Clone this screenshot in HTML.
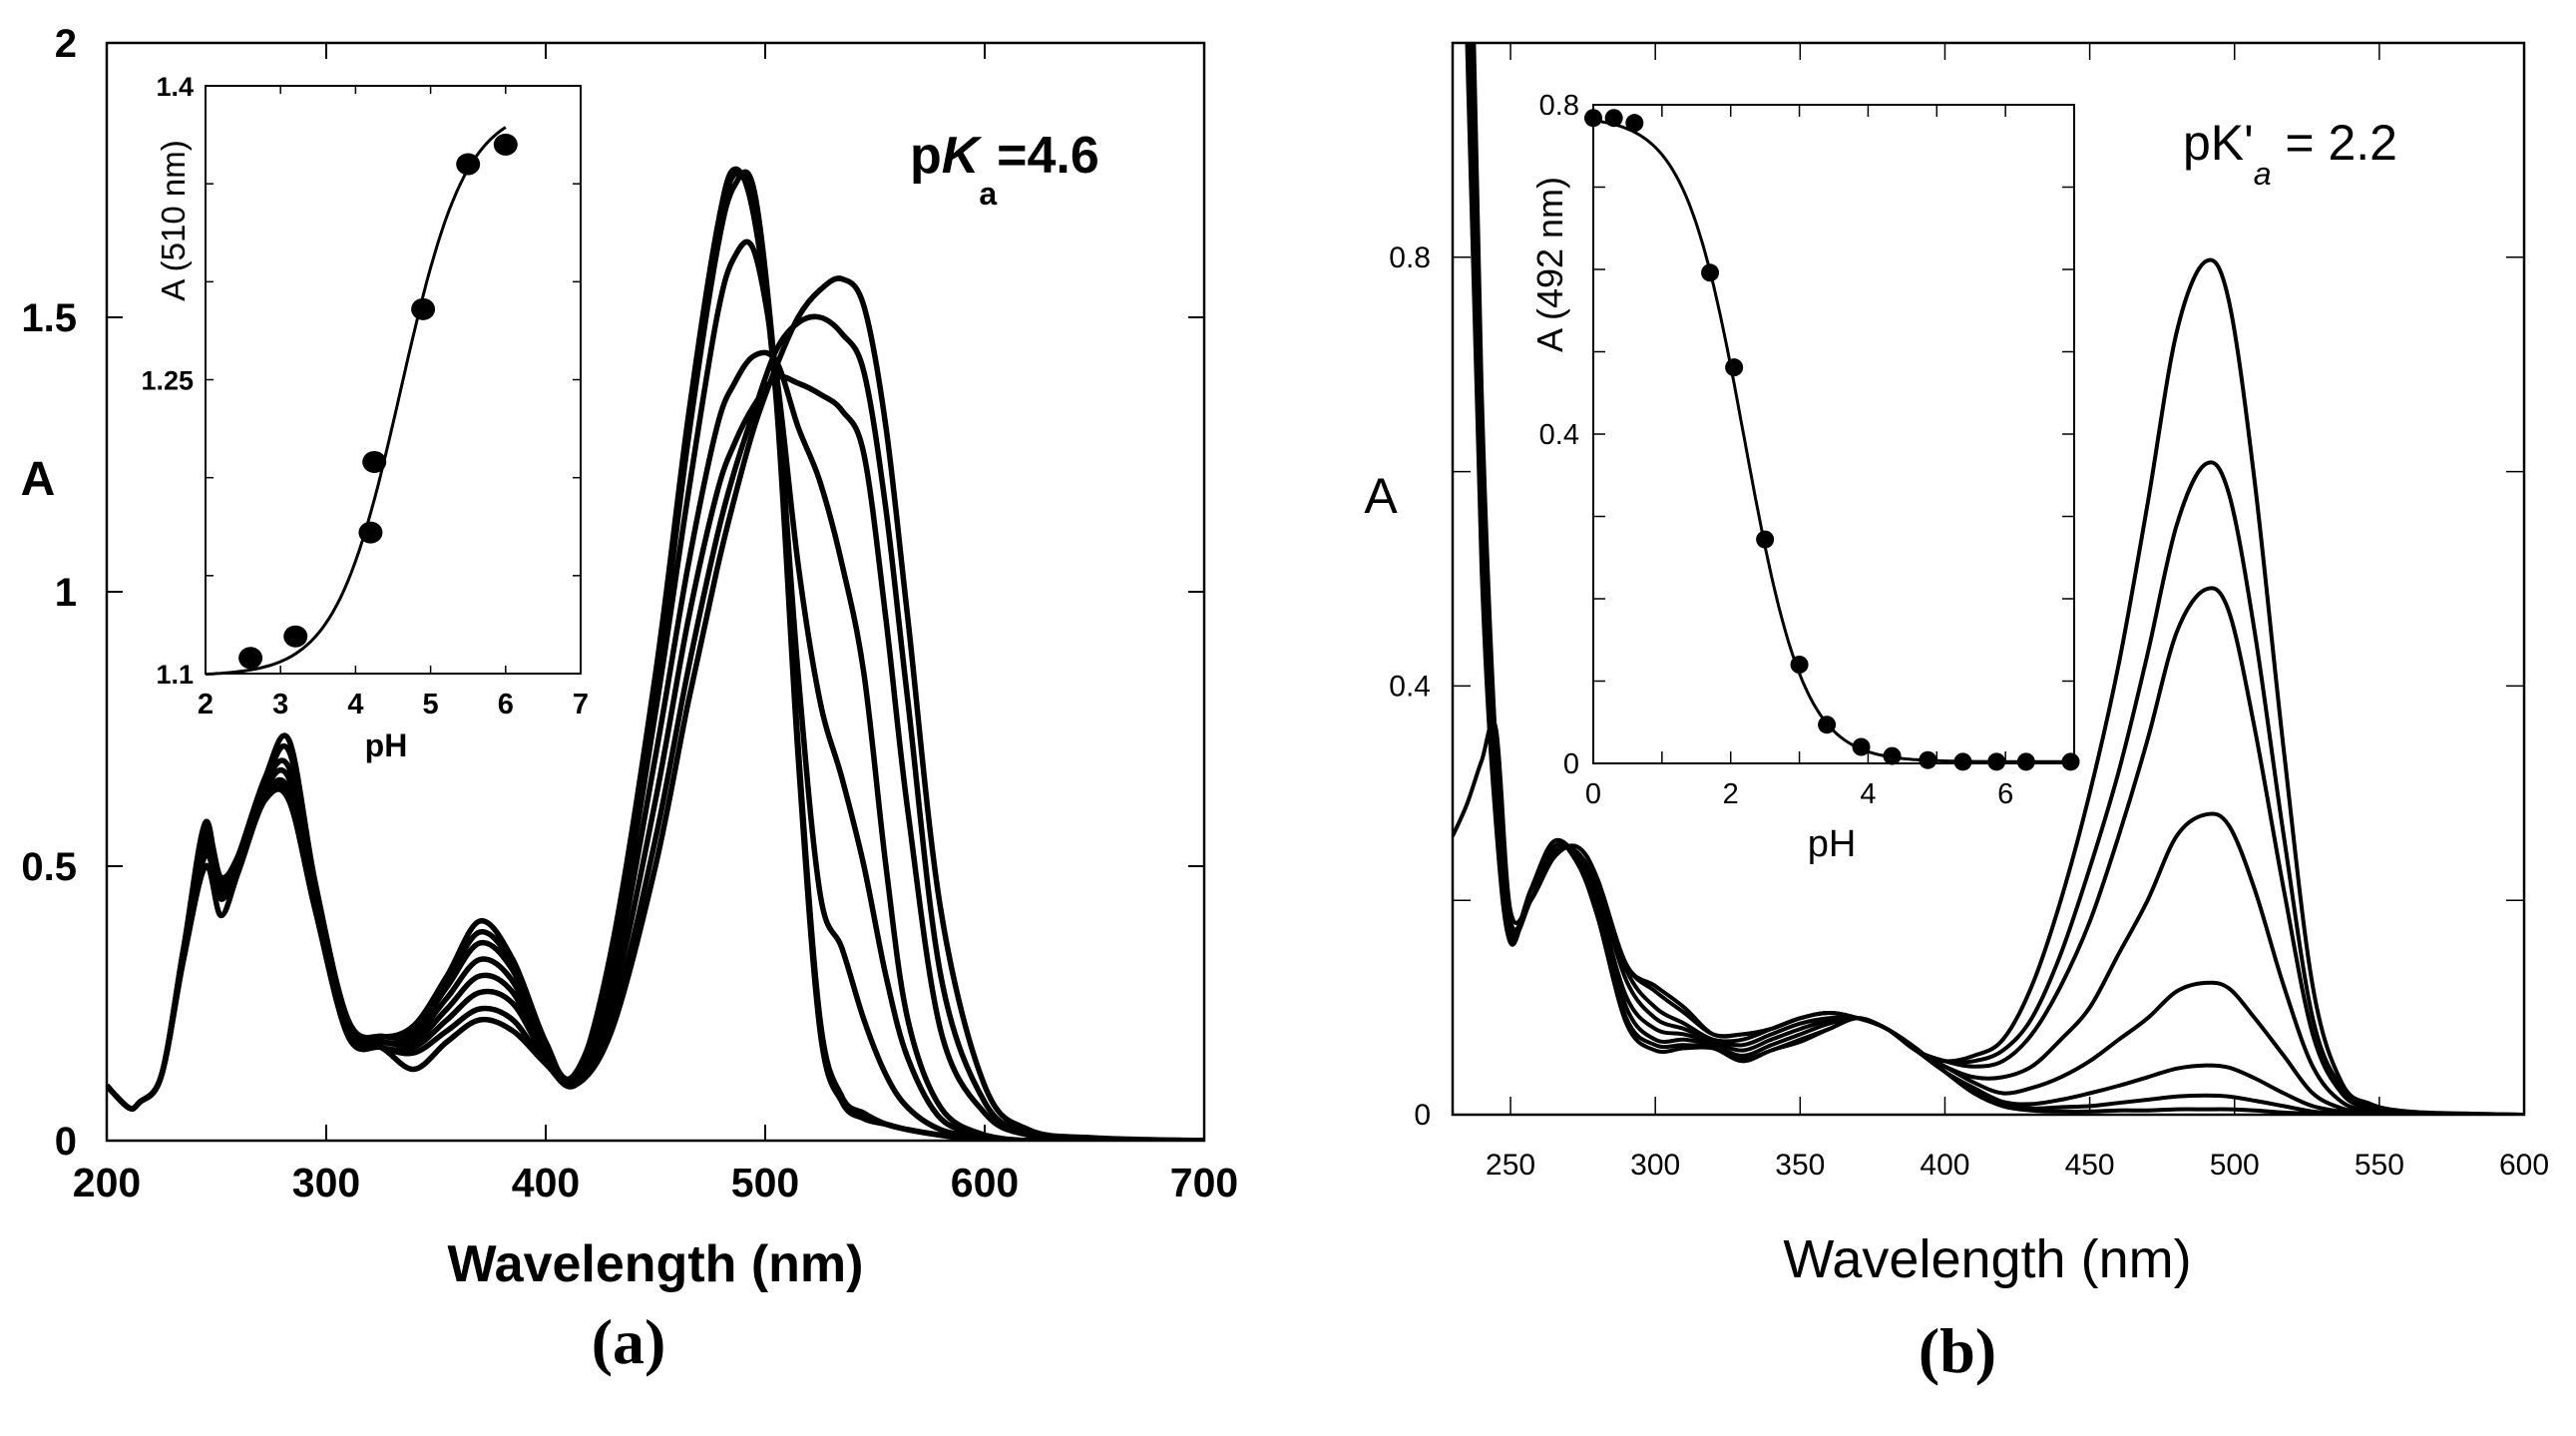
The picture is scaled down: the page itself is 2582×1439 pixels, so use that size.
<!DOCTYPE html>
<html><head><meta charset="utf-8"><style>
html,body{margin:0;padding:0;background:#fff}
svg{display:block}
text{font-family:"Liberation Sans",Arial,sans-serif;fill:#000}
</style></head><body>
<svg id="fig" width="2582" height="1439" viewBox="0 0 2582 1439" xmlns="http://www.w3.org/2000/svg">
<defs>
<clipPath id="clipA"><rect x="107" y="43" width="1100" height="1100"/></clipPath>
<clipPath id="clipB"><rect x="1456" y="43" width="1074" height="1074"/></clipPath>
</defs>
<g id="gA"></g>
<g id="gB"></g>
</svg>
<script>
// ---------- Panel (a) data ----------
const waveA = [200,210,215,225,235,245,252,260,272,283,295,310,325,340,355,370,385,400,413,430,450,465,478,486,495,505,515,525,535,545,555,565,580,600,620,650,700];
const specA1 = [0.10,0.06,0.07,0.12,0.35,0.58,0.45,0.52,0.66,0.73,0.47,0.22,0.19,0.21,0.30,0.40,0.33,0.18,0.11,0.35,0.85,1.32,1.66,1.77,1.68,1.35,0.70,0.20,0.07,0.04,0.03,0.02,0.01,0,0,0,0];
const specA2 = [0.10,0.06,0.07,0.12,0.35,0.57,0.46,0.52,0.65,0.71,0.46,0.21,0.19,0.20,0.29,0.38,0.32,0.17,0.11,0.34,0.84,1.30,1.64,1.76,1.70,1.36,0.72,0.22,0.08,0.05,0.03,0.02,0.01,0,0,0,0];
const specA3 = [0.10,0.06,0.07,0.12,0.35,0.56,0.48,0.52,0.65,0.68,0.46,0.21,0.19,0.20,0.28,0.36,0.31,0.17,0.12,0.33,0.82,1.28,1.62,1.74,1.73,1.38,0.85,0.45,0.35,0.22,0.12,0.06,0.02,0.005,0,0,0];
const specA4 = [0.10,0.06,0.07,0.12,0.34,0.55,0.47,0.51,0.64,0.66,0.44,0.21,0.18,0.19,0.26,0.33,0.29,0.16,0.12,0.31,0.78,1.18,1.50,1.61,1.62,1.40,1.05,0.80,0.66,0.50,0.30,0.15,0.04,0.01,0,0,0];
const specA5 = [0.10,0.06,0.07,0.12,0.34,0.54,0.46,0.51,0.63,0.64,0.43,0.20,0.18,0.18,0.24,0.30,0.27,0.15,0.11,0.28,0.70,1.05,1.30,1.38,1.43,1.42,1.30,1.20,1.05,0.85,0.50,0.22,0.06,0.01,0,0,0];
const specA6 = [0.10,0.06,0.07,0.12,0.34,0.53,0.45,0.50,0.63,0.63,0.43,0.20,0.17,0.17,0.22,0.27,0.25,0.15,0.11,0.25,0.62,0.95,1.18,1.27,1.34,1.39,1.38,1.36,1.33,1.25,0.95,0.60,0.20,0.05,0.01,0,0];
const specA7 = [0.10,0.06,0.07,0.12,0.34,0.52,0.44,0.50,0.62,0.62,0.42,0.19,0.17,0.16,0.20,0.24,0.22,0.14,0.11,0.22,0.55,0.86,1.10,1.22,1.33,1.44,1.49,1.50,1.47,1.40,1.15,0.80,0.30,0.07,0.015,0,0];
const specA8 = [0.10,0.06,0.07,0.12,0.33,0.50,0.41,0.49,0.62,0.62,0.42,0.19,0.17,0.13,0.18,0.22,0.20,0.14,0.10,0.20,0.50,0.80,1.04,1.17,1.30,1.41,1.50,1.55,1.57,1.52,1.30,0.95,0.42,0.10,0.02,0.005,0];
const seriesA = [specA1,specA2,specA3,specA4,specA5,specA6,specA7,specA8];
const xTicksA = [200,300,400,500,600,700];
const yTicksA = [0,0.5,1,1.5,2];
const yTickLabelsA = ["0","0.5","1","1.5","2"];
// inset (a)
const insetPhA = [2.6,3.2,4.2,4.25,4.9,5.5,6.0];
const insetAbsA = [1.108,1.119,1.172,1.208,1.286,1.36,1.37];
const fitA = {pKa:4.6, low:1.099, high:1.39, from:2, to:6};
const insetXTicksA = [2,3,4,5,6,7];
const insetYTicksA = [1.1,1.15,1.2,1.25,1.3,1.35,1.4];
const insetYLabelsA = {"1.1":"1.1","1.25":"1.25","1.4":"1.4"};

// ---------- Panel (b) data ----------
const waveB = [230,235,240,245,250,257,265,273,280,290,300,310,320,330,340,350,360,370,380,390,400,410,420,430,440,450,460,470,480,490,498,507,517,527,537,547,560,580,600];
const specB1 = [0.26,0.29,0.33,0.36,0.19,0.20,0.24,0.25,0.22,0.14,0.12,0.10,0.075,0.075,0.08,0.09,0.095,0.09,0.08,0.06,0.05,0.055,0.07,0.12,0.20,0.30,0.42,0.57,0.73,0.796,0.76,0.59,0.34,0.12,0.03,0.01,0.003,0.001,0];
const specB2 = [1.9,1.3,0.68,0.34,0.18,0.20,0.24,0.25,0.22,0.14,0.115,0.095,0.075,0.075,0.08,0.09,0.095,0.09,0.08,0.06,0.05,0.05,0.06,0.09,0.15,0.23,0.32,0.43,0.55,0.607,0.58,0.45,0.26,0.09,0.025,0.008,0.002,0.001,0];
const specB3 = [1.85,1.25,0.66,0.33,0.18,0.20,0.24,0.25,0.22,0.135,0.10,0.085,0.07,0.07,0.08,0.09,0.095,0.09,0.08,0.06,0.05,0.045,0.05,0.075,0.12,0.18,0.26,0.35,0.45,0.49,0.47,0.36,0.21,0.075,0.02,0.006,0.002,0,0];
const specB4 = [1.8,1.2,0.63,0.31,0.175,0.20,0.245,0.245,0.21,0.125,0.09,0.08,0.07,0.065,0.075,0.085,0.09,0.09,0.08,0.06,0.045,0.035,0.035,0.045,0.07,0.10,0.15,0.20,0.26,0.28,0.27,0.21,0.12,0.045,0.012,0.004,0.001,0,0];
const specB5 = [1.75,1.15,0.60,0.30,0.17,0.20,0.25,0.24,0.20,0.11,0.08,0.075,0.068,0.06,0.07,0.08,0.088,0.09,0.08,0.06,0.045,0.03,0.02,0.025,0.035,0.05,0.07,0.09,0.115,0.123,0.118,0.09,0.055,0.02,0.006,0.002,0,0,0];
const specB6 = [1.7,1.1,0.57,0.29,0.17,0.21,0.255,0.24,0.20,0.10,0.07,0.07,0.065,0.055,0.065,0.075,0.085,0.09,0.08,0.06,0.04,0.025,0.012,0.01,0.014,0.02,0.027,0.035,0.043,0.046,0.044,0.034,0.02,0.008,0.003,0.001,0,0,0];
const specB7 = [1.65,1.05,0.54,0.28,0.165,0.21,0.255,0.235,0.19,0.09,0.065,0.065,0.063,0.052,0.06,0.07,0.08,0.09,0.08,0.062,0.04,0.022,0.01,0.006,0.007,0.008,0.011,0.014,0.017,0.018,0.017,0.013,0.008,0.003,0.001,0,0,0,0];
const specB8 = [1.6,1.0,0.51,0.27,0.16,0.21,0.255,0.235,0.185,0.085,0.06,0.062,0.062,0.05,0.06,0.068,0.08,0.09,0.08,0.062,0.04,0.02,0.008,0.004,0.003,0.003,0.004,0.004,0.005,0.005,0.005,0.004,0.002,0.001,0,0,0,0,0];
const seriesB = [specB1,specB2,specB3,specB4,specB5,specB6,specB7,specB8];
const xTicksB = [250,300,350,400,450,500,550,600];
const yTicksB = [0,0.2,0.4,0.6,0.8,1.0];
const yTickLabelsB = {"0":"0","0.4":"0.4","0.8":"0.8"};
// inset (b)
const insetPhB = [0,0.3,0.6,1.7,2.05,2.5,3.0,3.4,3.9,4.35,4.87,5.38,5.87,6.3,6.95];
const insetAbsB = [0.784,0.784,0.778,0.596,0.481,0.272,0.12,0.047,0.02,0.009,0.004,0.002,0.002,0.002,0.002];
const fitB = {pKa:2.2, low:0.002, high:0.786, from:0, to:7};
const insetXTicksB = [0,1,2,3,4,5,6,7];
const insetXLabelsB = {"0":"0","2":"2","4":"4","6":"6"};
const insetYTicksB = [0,0.1,0.2,0.3,0.4,0.5,0.6,0.7,0.8];
const insetYLabelsB = {"0":"0","0.4":"0.4","0.8":"0.8"};

// ---------- helpers ----------
const NS = "http://www.w3.org/2000/svg";
function mk(parent, tag, attrs, txt){
  const e = document.createElementNS(NS, tag);
  for (const k in attrs) e.setAttribute(k, attrs[k]);
  if (txt !== undefined) e.textContent = txt;
  parent.appendChild(e);
  return e;
}
function linear(d0,d1,r0,r1){ return v => r0 + (v-d0)/(d1-d0)*(r1-r0); }
function smoothPath(pts){
  let d = "M" + pts[0][0].toFixed(1) + "," + pts[0][1].toFixed(1);
  for (let i=0;i<pts.length-1;i++){
    const p0=pts[Math.max(0,i-1)], p1=pts[i], p2=pts[i+1], p3=pts[Math.min(pts.length-1,i+2)];
    const c1x=p1[0]+(p2[0]-p0[0])/6, c1y=p1[1]+(p2[1]-p0[1])/6;
    const c2x=p2[0]-(p3[0]-p1[0])/6, c2y=p2[1]-(p3[1]-p1[1])/6;
    d += " C"+c1x.toFixed(1)+","+c1y.toFixed(1)+" "+c2x.toFixed(1)+","+c2y.toFixed(1)+" "+p2[0].toFixed(1)+","+p2[1].toFixed(1);
  }
  return d;
}

// ---------- Panel (a) ----------
(function(){
  const g = document.getElementById('gA');
  const L=107,R=1207,T=43,B=1143;
  const x = linear(200,700,L,R), y = linear(0,2,B,T);
  const curves = mk(g,'g',{'clip-path':'url(#clipA)'});
  seriesA.forEach((s,i)=>{
    const p = mk(curves,'path',{d:smoothPath(waveA.map((w,j)=>[x(w),y(s[j])])),fill:'none',stroke:'#000','stroke-width':5.5,'stroke-linejoin':'round'});
    
    
  });
  const fr = mk(g,'rect',{x:L,y:T,width:R-L,height:B-T,fill:'none',stroke:'#000','stroke-width':2.5});
   
  xTicksA.forEach(v=>{
    mk(g,'line',{x1:x(v),x2:x(v),y1:B,y2:B-16,stroke:'#000','stroke-width':2});
    mk(g,'line',{x1:x(v),x2:x(v),y1:T,y2:T+16,stroke:'#000','stroke-width':2});
    const t = mk(g,'text',{x:x(v),y:B+56,'text-anchor':'middle','font-size':41,'font-weight':'bold'},String(v));
     
  });
  yTicksA.forEach((v,i)=>{
    mk(g,'line',{x1:L,x2:L+16,y1:y(v),y2:y(v),stroke:'#000','stroke-width':2});
    mk(g,'line',{x1:R,x2:R-16,y1:y(v),y2:y(v),stroke:'#000','stroke-width':2});
    const t = mk(g,'text',{x:L-30,y:y(v)+14,'text-anchor':'end','font-size':40,'font-weight':'bold'},yTickLabelsA[i]);
     
  });
  let t;
  t = mk(g,'text',{x:657,y:1284,'text-anchor':'middle','font-size':52,'font-weight':'bold'},'Wavelength (nm)');
   
  t = mk(g,'text',{x:38,y:496,'text-anchor':'middle','font-size':48,'font-weight':'bold'},'A');
   
  t = mk(g,'text',{x:912,y:173,'font-size':52,'font-weight':'bold'});
   
  mk(t,'tspan',{},'p'); mk(t,'tspan',{'font-style':'italic'},'K');
  mk(t,'tspan',{'font-size':32,dy:32},'a'); mk(t,'tspan',{dy:-32},'=4.6');
  t = mk(g,'text',{x:630,y:1366,'text-anchor':'middle','font-size':64,'font-weight':'bold',style:'font-family:"Liberation Serif",serif'},'(a)');
   

  // inset
  const iL=206,iR=582,iT=86,iB=675;
  const ix = linear(2,7,iL,iR), iy = linear(1.1,1.4,iB,iT);
  const ig = mk(g,'g',{});
   
  mk(ig,'rect',{x:iL,y:iT,width:iR-iL,height:iB-iT,fill:'#fff',stroke:'#000','stroke-width':2});
  insetXTicksA.forEach(v=>{
    mk(ig,'line',{x1:ix(v),x2:ix(v),y1:iB,y2:iB-8,stroke:'#000','stroke-width':1.5});
    mk(ig,'line',{x1:ix(v),x2:ix(v),y1:iT,y2:iT+8,stroke:'#000','stroke-width':1.5});
    mk(ig,'text',{x:ix(v),y:iB+40,'text-anchor':'middle','font-size':29,'font-weight':'bold'},String(v));
  });
  insetYTicksA.forEach(v=>{
    mk(ig,'line',{x1:iL,x2:iL+8,y1:iy(v),y2:iy(v),stroke:'#000','stroke-width':1.5});
    mk(ig,'line',{x1:iR,x2:iR-8,y1:iy(v),y2:iy(v),stroke:'#000','stroke-width':1.5});
    const k = String(v);
    if (insetYLabelsA[k]) mk(ig,'text',{x:iL-12,y:iy(v)+10,'text-anchor':'end','font-size':27,'font-weight':'bold'},insetYLabelsA[k]);
  });
  mk(ig,'text',{x:387,y:758,'text-anchor':'middle','font-size':32,'font-weight':'bold'},'pH');
  mk(ig,'text',{x:0,y:0,transform:'translate(185,221) rotate(-90)','text-anchor':'middle','font-size':33},'A (510 nm)');
  const fpts=[];
  for (let p=fitA.from;p<=fitA.to+1e-9;p+=0.05){
    fpts.push([ix(p), iy(fitA.low+(fitA.high-fitA.low)/(1+Math.pow(10,fitA.pKa-p)))]);
  }
  const fl = mk(ig,'path',{d:'M'+fpts.map(q=>q[0].toFixed(1)+','+q[1].toFixed(1)).join(' L'),fill:'none',stroke:'#000','stroke-width':3});
   
  insetPhA.forEach((p,i)=>{
    const c = mk(ig,'ellipse',{cx:ix(p),cy:iy(insetAbsA[i]),rx:12,ry:11,fill:'#000'});
     
  });
})();

// ---------- Panel (b) ----------
(function(){
  const g = document.getElementById('gB');
  const L=1456,R=2530,T=43,B=1117;
  const x = linear(230,600,L,R), y = linear(0,1,B,T);
  const curves = mk(g,'g',{'clip-path':'url(#clipB)'});
  seriesB.forEach((s,i)=>{
    const p = mk(curves,'path',{d:smoothPath(waveB.map((w,j)=>[x(w),y(s[j])])),fill:'none',stroke:'#000','stroke-width':4,'stroke-linejoin':'round'});
    
    
  });
  const fr = mk(g,'rect',{x:L,y:T,width:R-L,height:B-T,fill:'none',stroke:'#000','stroke-width':2.5});
   
  xTicksB.forEach(v=>{
    mk(g,'line',{x1:x(v),x2:x(v),y1:B,y2:B-18,stroke:'#000','stroke-width':1.5});
    mk(g,'line',{x1:x(v),x2:x(v),y1:T,y2:T+17,stroke:'#000','stroke-width':1.5});
    const t = mk(g,'text',{x:x(v),y:B+60,'text-anchor':'middle','font-size':30},String(v));
     
  });
  yTicksB.forEach(v=>{
    mk(g,'line',{x1:L,x2:L+18,y1:y(v),y2:y(v),stroke:'#000','stroke-width':1.5});
    mk(g,'line',{x1:R,x2:R-18,y1:y(v),y2:y(v),stroke:'#000','stroke-width':1.5});
    const k = String(v);
    if (yTickLabelsB[k]!==undefined){
      const t = mk(g,'text',{x:L-22,y:y(v)+10,'text-anchor':'end','font-size':30},yTickLabelsB[k]);
       
    }
  });
  let t;
  t = mk(g,'text',{x:1992,y:1280,'text-anchor':'middle','font-size':54},'Wavelength (nm)');
   
  t = mk(g,'text',{x:1384,y:514,'text-anchor':'middle','font-size':50},'A');
   
  t = mk(g,'text',{x:2188,y:160,'font-size':50});
   
  mk(t,'tspan',{},"pK'"); mk(t,'tspan',{'font-size':32,'font-style':'italic',dy:25},'a'); mk(t,'tspan',{dy:-25},' = 2.2');
  t = mk(g,'text',{x:1962,y:1375,'text-anchor':'middle','font-size':64,'font-weight':'bold',style:'font-family:"Liberation Serif",serif'},'(b)');
   

  const iL=1597,iR=2079,iT=105,iB=765;
  const ix = linear(0,7,iL,iR), iy = linear(0,0.8,iB,iT);
  const ig = mk(g,'g',{});
   
  mk(ig,'rect',{x:iL,y:iT,width:iR-iL,height:iB-iT,fill:'#fff',stroke:'#000','stroke-width':2});
  insetXTicksB.forEach(v=>{
    mk(ig,'line',{x1:ix(v),x2:ix(v),y1:iB,y2:iB-12,stroke:'#000','stroke-width':1.5});
    mk(ig,'line',{x1:ix(v),x2:ix(v),y1:iT,y2:iT+12,stroke:'#000','stroke-width':1.5});
    const k=String(v);
    if (insetXLabelsB[k]!==undefined) mk(ig,'text',{x:ix(v),y:iB+40,'text-anchor':'middle','font-size':29},insetXLabelsB[k]);
  });
  insetYTicksB.forEach(v=>{
    mk(ig,'line',{x1:iL,x2:iL+12,y1:iy(v),y2:iy(v),stroke:'#000','stroke-width':1.5});
    mk(ig,'line',{x1:iR,x2:iR-12,y1:iy(v),y2:iy(v),stroke:'#000','stroke-width':1.5});
    const k = String(v);
    if (insetYLabelsB[k]!==undefined) mk(ig,'text',{x:iL-14,y:iy(v)+10,'text-anchor':'end','font-size':29},insetYLabelsB[k]);
  });
  mk(ig,'text',{x:1836,y:858,'text-anchor':'middle','font-size':38},'pH');
  mk(ig,'text',{x:0,y:0,transform:'translate(1566,265) rotate(-90)','text-anchor':'middle','font-size':36},'A (492 nm)');
  const fpts=[];
  for (let p=fitB.from;p<=fitB.to+1e-9;p+=0.05){
    fpts.push([ix(p), iy(fitB.low+(fitB.high-fitB.low)/(1+Math.pow(10,p-fitB.pKa)))]);
  }
  const fl = mk(ig,'path',{d:'M'+fpts.map(q=>q[0].toFixed(1)+','+q[1].toFixed(1)).join(' L'),fill:'none',stroke:'#000','stroke-width':3});
   
  insetPhB.forEach((p,i)=>{
    const c = mk(ig,'ellipse',{cx:ix(p),cy:iy(insetAbsB[i]),rx:9,ry:9,fill:'#000'});
     
  });
})();
</script>
</body></html>
